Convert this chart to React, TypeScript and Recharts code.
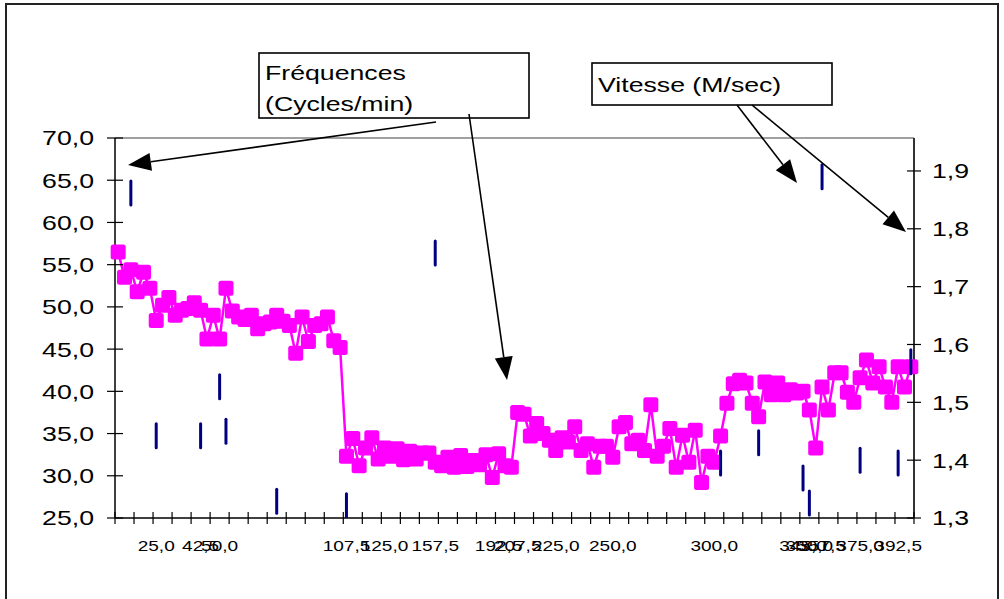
import React from "react";
import { ComposedChart, Line, Scatter, XAxis, YAxis, ReferenceLine } from "recharts";

// 126 categories on the x axis, a tick mark every 3 categories
const categoryCount = 126;

// Fréquences (cycles/min), one value per category
const frequencies = [
  56.5, 53.5, 54.4, 51.8, 54.1, 52.2, 48.4, 50.2, 51.1, 49.0, 49.6, 49.8, 50.5, 49.6, 46.2, 49.0, 46.2, 52.2,
  49.5, 48.8, 48.5, 49.0, 47.4, 48.0, 48.2, 49.0, 48.3, 47.8, 44.5, 48.8, 45.9, 47.8, 48.0, 48.8, 46.0, 45.2,
  32.3, 34.4, 31.2, 33.3, 34.5, 32.0, 33.3, 32.3, 33.2, 31.9, 32.9, 32.0, 32.7, 32.7, 31.6, 31.2, 32.2, 31.0,
  32.4, 31.1, 31.8, 31.3, 32.5, 29.8, 32.6, 31.2, 31.0,
  37.5, 37.3, 34.7, 36.2, 35.0, 34.2, 33.0, 34.5, 34.0, 35.8, 33.0, 33.8, 31.0, 33.5, 33.5, 32.2, 35.8, 36.3,
  33.8, 34.2, 33.0, 38.4, 32.3, 33.5, 35.6, 31.0, 34.8, 31.6, 35.4, 29.2, 32.3, 31.6, 34.7,
  38.6, 40.9, 41.3, 41.0, 38.6, 37.0, 41.1, 39.6, 41.0, 39.6, 40.2, 39.8, 40.0, 37.8, 33.3, 40.5, 37.8, 42.2,
  42.2, 39.9, 38.7, 41.6, 43.7, 41.0, 42.9, 40.5, 38.7, 42.9, 40.5, 42.9,
];

// Vitesse (m/sec), only measured at some categories
const speedCategory = [2, 6, 13, 16, 17, 25, 36, 50, 95, 101, 108, 109, 111, 117, 123, 125];
const speedValues = [1.862, 1.442, 1.442, 1.527, 1.45, 1.329, 1.321, 1.758, 1.395, 1.43, 1.369, 1.326, 1.89, 1.4, 1.395, 1.57];

// category labels that are filled in
const labelCategory = [6, 13, 16, 36, 42, 50, 60, 63, 69, 78, 94, 108, 109, 111, 117, 123];
const labelText = [
  "25,0", "42,5", "50,0", "107,5", "125,0", "157,5", "192,5", "207,5", "225,0",
  "250,0", "300,0", "345,0", "350,0", "357,5", "375,0", "392,5",
];

const leftTicks = [25, 30, 35, 40, 45, 50, 55, 60, 65, 70];
const rightTicks = [1.3, 1.4, 1.5, 1.6, 1.7, 1.8, 1.9];

const FONT = "'Liberation Sans', Arial, sans-serif";
const STRETCH = 1.27;

const comma = (v: number) => v.toFixed(1).replace(".", ",");

const freqData = frequencies.map((f, i) => ({ x: i + 0.5, freq: f }));
const speedData = speedCategory.map((c, i) => ({ x: c + 0.5, speed: speedValues[i] }));
const tickMarks = Array.from({ length: categoryCount / 3 + 1 }, (_, k) => k * 3);
const labelPos = new Map(labelCategory.map((c, i) => [c + 0.5, labelText[i]]));
const xTicks = [...tickMarks, ...labelCategory.map((c) => c + 0.5)];

function XTick({ x, y, payload }: any) {
  const label = labelPos.get(payload.value);
  if (label === undefined) {
    return <line x1={x} x2={x} y1={y - 6} y2={y + 6} stroke="#000" strokeWidth={1.2} />;
  }
  return (
    <text
      transform={`translate(${x},${y + 28}) scale(${STRETCH},1)`}
      textAnchor="middle"
      dominantBaseline="central"
      fontSize={15}
      fontFamily={FONT}
      fill="#000"
    >
      {label}
    </text>
  );
}

function LeftTick({ x, y, payload }: any) {
  return (
    <g>
      <line x1={x - 8} x2={x + 8} y1={y} y2={y} stroke="#000" strokeWidth={1.2} />
      <text
        transform={`translate(${x - 21},${y}) scale(${STRETCH},1)`}
        textAnchor="end"
        dominantBaseline="central"
        fontSize={21}
        fontFamily={FONT}
        fill="#000"
      >
        {comma(payload.value)}
      </text>
    </g>
  );
}

function RightTick({ x, y, payload }: any) {
  return (
    <g>
      <line x1={x - 7} x2={x + 7} y1={y} y2={y} stroke="#000" strokeWidth={1.2} />
      <text
        transform={`translate(${x + 18},${y}) scale(${STRETCH},1)`}
        textAnchor="start"
        dominantBaseline="central"
        fontSize={21}
        fontFamily={FONT}
        fill="#000"
      >
        {comma(payload.value)}
      </text>
    </g>
  );
}

const SquareDot = (props: any) => {
  const { cx, cy, index } = props;
  if (cx == null || cy == null) return null;
  return <rect key={`sq-${index}`} x={cx - 7.5} y={cy - 7.5} width={15} height={15} rx={2.5} fill="#ff00ff" />;
};

const DashShape = (props: any) => {
  const { cx, cy } = props;
  if (cx == null || cy == null) return null;
  return <line x1={cx} x2={cx} y1={cy - 12} y2={cy + 12} stroke="#000080" strokeWidth={3} strokeLinecap="round" />;
};

// arrow from a callout box to a point on the chart
function Arrow({ from, to }: { from: [number, number]; to: [number, number] }) {
  const dx = to[0] - from[0];
  const dy = to[1] - from[1];
  const len = Math.hypot(dx, dy);
  const ux = dx / len;
  const uy = dy / len;
  const bx = to[0] - ux * 23;
  const by = to[1] - uy * 23;
  const nx = -uy * 9;
  const ny = ux * 9;
  return (
    <g>
      <line x1={from[0]} y1={from[1]} x2={bx} y2={by} stroke="#000" strokeWidth={1.6} />
      <polygon points={`${to[0]},${to[1]} ${bx + nx},${by + ny} ${bx - nx},${by - ny}`} fill="#000" />
    </g>
  );
}

function Callouts() {
  const txt = (x: number, y: number, s: string) => (
    <text transform={`translate(${x},${y}) scale(${STRETCH},1)`} fontSize={21} fontFamily={FONT} fill="#000">
      {s}
    </text>
  );
  return (
    <svg width={1004} height={599} style={{ position: "absolute", left: 0, top: 0, pointerEvents: "none" }}>
      <rect x={259} y={53} width={270} height={65} fill="#fff" stroke="#000" strokeWidth={1.6} />
      {txt(265, 80, "Fréquences")}
      {txt(265, 111, "(Cycles/min)")}
      <rect x={592} y={63} width={240} height={42} fill="#fff" stroke="#000" strokeWidth={1.6} />
      {txt(598, 92, "Vitesse (M/sec)")}
      <Arrow from={[436, 122]} to={[128, 165]} />
      <Arrow from={[469, 114]} to={[507, 380]} />
      <Arrow from={[737, 105]} to={[797, 183]} />
      <Arrow from={[752, 105]} to={[906, 232]} />
    </svg>
  );
}

export default function App() {
  return (
    <div style={{ position: "absolute", left: 0, top: 0, width: 1004, height: 599, overflow: "hidden", background: "#fff" }}>
      <div
        style={{
          position: "absolute",
          left: 5,
          top: 3,
          width: 994,
          height: 700,
          border: "2px solid #222",
          boxSizing: "border-box",
        }}
      />
      <div style={{ position: "absolute", left: 0, top: 0 }}>
        <ComposedChart
          width={1004}
          height={599}
          data={freqData}
          margin={{ top: 138, right: 0, bottom: 0, left: 0 }}
        >
          <XAxis
            type="number"
            dataKey="x"
            domain={[0, categoryCount]}
            ticks={xTicks}
            interval={0}
            height={81}
            tickSize={0}
            tickMargin={0}
            tickLine={false}
            axisLine={{ stroke: "#000", strokeWidth: 1.5 }}
            tick={<XTick />}
          />
          <YAxis
            yAxisId="left"
            domain={[25, 70]}
            ticks={leftTicks}
            interval={0}
            width={115}
            tickSize={0}
            tickMargin={0}
            tickLine={false}
            axisLine={{ stroke: "#000", strokeWidth: 1.5 }}
            tick={<LeftTick />}
          />
          <YAxis
            yAxisId="right"
            orientation="right"
            domain={[1.3, 1.957]}
            ticks={rightTicks}
            interval={0}
            width={90}
            tickSize={0}
            tickMargin={0}
            tickLine={false}
            allowDataOverflow
            axisLine={{ stroke: "#333", strokeWidth: 2 }}
            tick={<RightTick />}
          />
          <ReferenceLine yAxisId="left" y={70} stroke="#808080" strokeWidth={1.5} />
          <Line
            yAxisId="left"
            dataKey="freq"
            stroke="#ff00ff"
            strokeWidth={2.5}
            dot={SquareDot}
            activeDot={false}
            isAnimationActive={false}
          />
          <Scatter
            yAxisId="right"
            data={speedData}
            dataKey="speed"
            shape={DashShape}
            isAnimationActive={false}
          />
        </ComposedChart>
      </div>
      <Callouts />
    </div>
  );
}
